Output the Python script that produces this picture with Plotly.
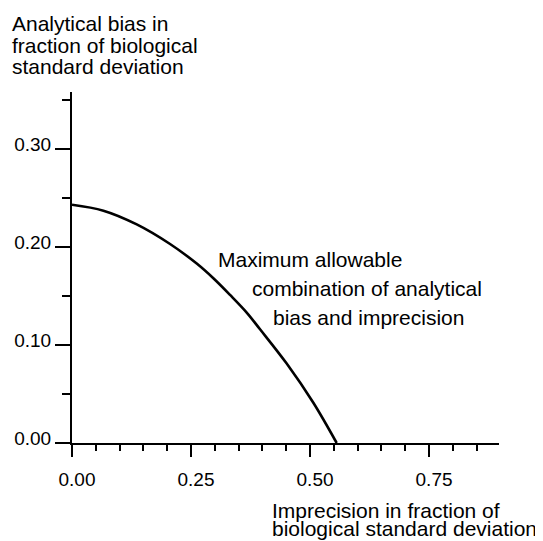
import plotly.graph_objects as go

# Curve: maximum allowable combination of analytical bias and imprecision
imprecision = [0.0, 0.066, 0.136, 0.206, 0.262, 0.297, 0.332, 0.367, 0.395, 0.451, 0.507, 0.556]
bias = [0.243, 0.237, 0.223, 0.203, 0.183, 0.168, 0.151, 0.133, 0.116, 0.081, 0.041, 0.0]

x_ticks = [0.0, 0.25, 0.5, 0.75]
x_tick_labels = ["0.00", "0.25", "0.50", "0.75"]
y_ticks = [0.0, 0.10, 0.20, 0.30]
y_tick_labels = ["0.00", "0.10", "0.20", "0.30"]

# The page body adds an 8px margin, so the figure is laid out 8px smaller
OFF = 8
W, H = 543 - OFF, 541 - OFF
L, T = 72 - OFF, 92 - OFF
R = W - (499 - OFF)
B = H - (443 - OFF)
X_RANGE = [0, 0.897]
Y_RANGE = [0, 0.358]

FONT = "Liberation Sans, Arial, Helvetica, sans-serif"

fig = go.Figure()
fig.add_trace(go.Scatter(
    x=imprecision, y=bias, mode="lines",
    line=dict(color="black", width=2.6, shape="spline", smoothing=1.0),
    hoverinfo="skip", showlegend=False, cliponaxis=False,
))

def px_to_paper(px, py):
    px, py = px - OFF, py - OFF
    return (px - L) / (W - L - R), (H - B - py) / (H - T - B)

def add_line(text, px, py, size=21):
    xp, yp = px_to_paper(px, py)
    fig.add_annotation(text=text, x=xp, y=yp, xref="paper", yref="paper",
                       xanchor="left", yanchor="middle", showarrow=False,
                       borderpad=0, borderwidth=0,
                       font=dict(family=FONT, size=size, color="black"))

# Y axis title (three lines)
add_line("Analytical bias in", 12, 23)
add_line("fraction of biological", 12, 45)
add_line("standard deviation", 12, 66.5)
# X axis title (two lines)
add_line("Imprecision in fraction of", 272, 511)
add_line("biological standard deviation", 272, 528)
# Curve label
add_line("Maximum allowable", 218, 259)
add_line("combination of analytical", 252, 288)
add_line("bias and imprecision", 273, 317)

axis_common = dict(
    showgrid=False, zeroline=False, showline=True, linecolor="black",
    linewidth=2, ticks="outside", tickcolor="black", tickwidth=2,
    tickfont=dict(family=FONT, size=19, color="black"),
    fixedrange=True, automargin=False,
)

fig.update_xaxes(
    range=X_RANGE, tickvals=x_ticks, ticktext=x_tick_labels, ticklen=12,
    minor=dict(dtick=0.05, tick0=0, ticks="outside", ticklen=6,
               tickcolor="black", tickwidth=2),
    ticklabelstandoff=6, ticklabelshift=5,
    **axis_common,
)
fig.update_yaxes(
    range=Y_RANGE, tickvals=y_ticks, ticktext=y_tick_labels, ticklen=15,
    minor=dict(dtick=0.05, tick0=0, ticks="outside", ticklen=8,
               tickcolor="black", tickwidth=2),
    ticklabelstandoff=0, ticklabelshift=-5,
    **axis_common,
)

fig.update_layout(
    width=W, height=H, margin=dict(l=L, r=R, t=T, b=B),
    plot_bgcolor="white", paper_bgcolor="white",
    font=dict(family=FONT, color="black"),
)

fig.write_html("out.html")
